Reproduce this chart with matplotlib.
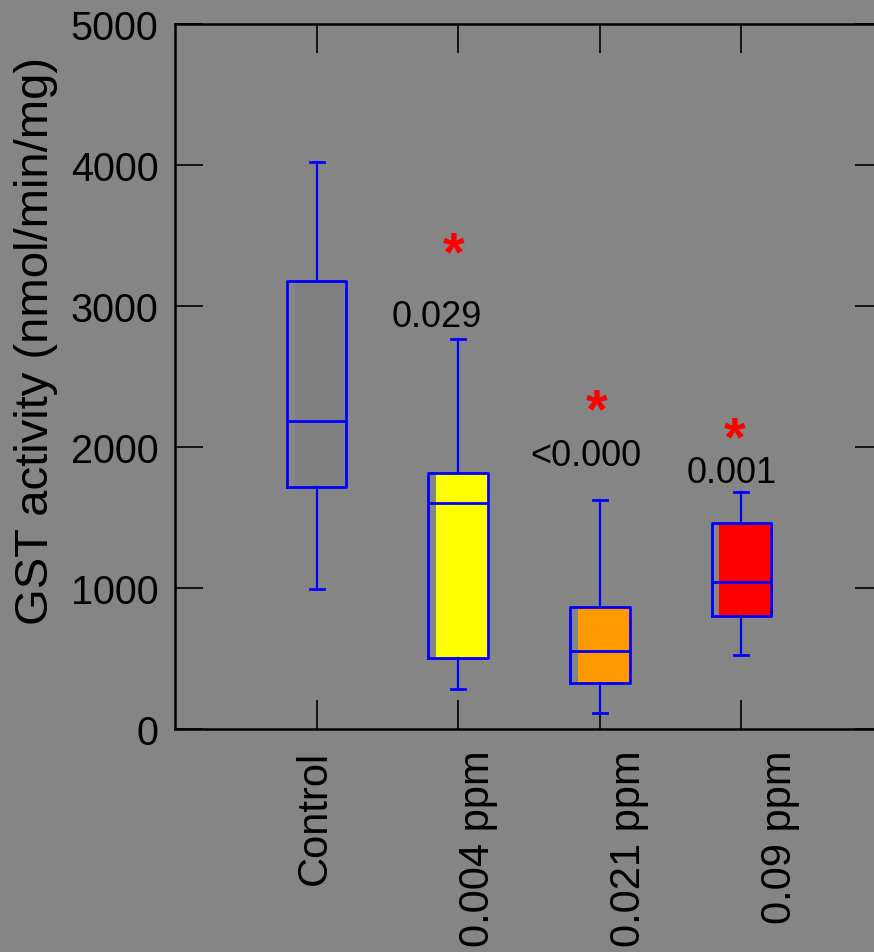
import matplotlib
matplotlib.use("Agg")
import matplotlib.pyplot as plt
from matplotlib.transforms import ScaledTranslation

plt.rcParams["font.family"] = ["Liberation Sans", "DejaVu Sans"]

# Group labels and box colours
groups = ["Control", "0.004 ppm", "0.021 ppm", "0.09 ppm"]
box_colors = ["#808080", "#FFFF00", "#FF9900", "#FF0000"]

# Five-number summaries of GST activity (nmol/min/mg)
whisker_low = [993, 284, 113, 525]
q1 = [1716, 504, 326, 801]
median = [2184, 1603, 553, 1043]
q3 = [3177, 1816, 865, 1461]
whisker_high = [4021, 2766, 1626, 1681]

# Significance annotations (p-values vs. control)
p_labels = ["", "0.029", "<0.000", "0.001"]
p_label_y = [0, 2929, 1943, 1816]
p_label_dx = [0, -0.15, -0.10, -0.07]
star_y = [0, 3362, 2248, 2050]
star_dx = [0, -0.03, -0.02, -0.05]

# Horizontal shift of each category label (inches)
label_shift = [-0.02, 0.20, 0.29, 0.39]

bg = "#858585"
fig = plt.figure(figsize=(8.74, 9.53), dpi=100, facecolor=bg)
ax = fig.add_axes([175 / 874, 1 - 730 / 953, 708 / 874, 705 / 953])
ax.set_facecolor(bg)

positions = list(range(1, len(groups) + 1))
stats = [
    dict(whislo=wl, q1=a, med=m, q3=b, whishi=wh, fliers=[], label=g)
    for g, wl, a, m, b, wh in zip(groups, whisker_low, q1, median, q3, whisker_high)
]

# Coloured fill, slightly offset from the outline
fill = ax.bxp(stats, positions=[p + 0.035 for p in positions], widths=0.38,
              patch_artist=True, showcaps=False, showfliers=False,
              boxprops=dict(linewidth=0),
              whiskerprops=dict(linewidth=0), medianprops=dict(linewidth=0),
              manage_ticks=False)
for patch, c in zip(fill["boxes"], box_colors):
    patch.set_facecolor(c)
    patch.set_edgecolor("none")
    patch.set_zorder(1)

# Blue outlines, whiskers, caps and medians
blue = "#0000FF"
ax.bxp(stats, positions=positions, widths=0.42, patch_artist=False,
       showfliers=False,
       boxprops=dict(color=blue, linewidth=2),
       whiskerprops=dict(color=blue, linewidth=1.6),
       capprops=dict(color=blue, linewidth=2),
       medianprops=dict(color=blue, linewidth=2),
       capwidths=0.1, manage_ticks=False)

for pos, lab, ly, dx, sy, sdx in zip(positions, p_labels, p_label_y,
                                      p_label_dx, star_y, star_dx):
    if not lab:
        continue
    ax.text(pos + dx, ly, lab, ha="center", va="center", fontsize=26,
            color="black")
    ax.text(pos + sdx, sy, "*", ha="center", va="center", fontsize=40,
            fontweight="bold", color="#FF0000")

ax.set_xlim(0, 5)
ax.set_ylim(0, 5000)
ax.set_xticks(positions)
ax.set_xticklabels(groups, rotation=90, fontsize=30)
ax.set_yticks(range(0, 5001, 1000))
ax.tick_params(axis="y", labelsize=28.5, direction="in", length=20, width=1.2,
               left=True, right=True, pad=12)
ax.tick_params(axis="x", direction="in", length=21, width=1.2,
               bottom=True, top=True, pad=15)

for lbl, dx in zip(ax.get_xticklabels(), label_shift):
    lbl.set_transform(lbl.get_transform()
                      + ScaledTranslation(dx, 0, fig.dpi_scale_trans))

for s in ax.spines.values():
    s.set_linewidth(1.8)
    s.set_color("black")

ax.set_ylabel("GST activity (nmol/min/mg)", fontsize=34)
ax.yaxis.label.set_va("center")
ax.yaxis.set_label_coords(-0.196, 0.552)

fig.savefig("out.png", dpi=100, facecolor=bg)
